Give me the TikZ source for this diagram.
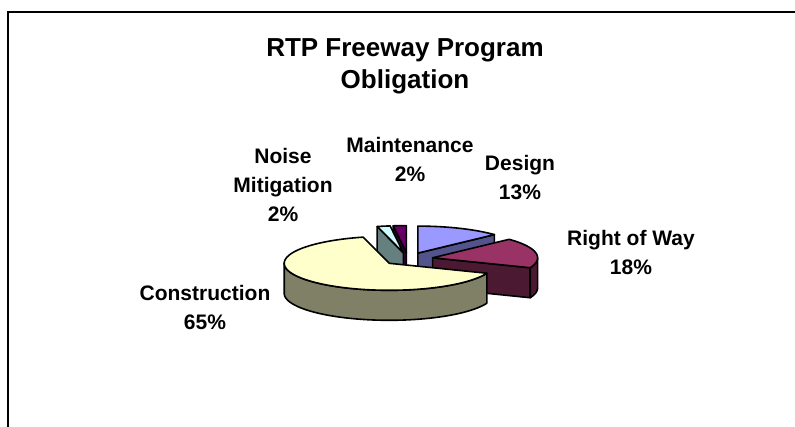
\documentclass[tikz,border=0pt]{standalone}
\usepackage{fontspec}
\setmainfont{Liberation Sans}
\usepackage{xcolor}

\definecolor{designc}{HTML}{9999FF}
\definecolor{rowc}{HTML}{993366}
\definecolor{constrc}{HTML}{FFFFCC}
\definecolor{noisec}{HTML}{CCFFFF}
\definecolor{maintc}{HTML}{660066}

\begin{document}
\begin{tikzpicture}[x=1pt,y=-1pt,
  face/.style={draw=black,line width=1.6pt,line join=round},
  lbl/.style={font=\bfseries\fontsize{21}{29}\selectfont,align=center,inner sep=0pt}]
  \useasboundingbox (0,0) rectangle (795,427);
  \def\rx{105} \def\ry{27} \def\dep{30}

  % frame
  \draw[line width=2.5pt] (8,427) -- (8,12) -- (795,12);

  \node[lbl,font=\bfseries\fontsize{26}{32}\selectfont] (title) at (405,66) {RTP Freeway Program\\Obligation};

% Maintenance
\begin{scope}[shift={(406.4,252.6)}]
  \draw[face,fill=maintc!50!black] (0,0) -- ({\rx*sin(352.8)},{-\ry*cos(352.8)}) -- ++(0,\dep) -- (0,\dep) -- cycle;
  \draw[face,fill=maintc] (0,0) -- plot[domain=352.8:360,variable=\x] ({\rx*sin(\x)},{-\ry*cos(\x)}) -- cycle;
\end{scope}

% Noise Mitigation
\begin{scope}[shift={(403.3,252.7)}]
  \draw[face,fill=noisec!50!black] (0,0) -- ({\rx*sin(345.6)},{-\ry*cos(345.6)}) -- ++(0,\dep) -- (0,\dep) -- cycle;
  \draw[face,fill=noisec] (0,0) -- plot[domain=345.6:352.8,variable=\x] ({\rx*sin(\x)},{-\ry*cos(\x)}) -- cycle;
\end{scope}

% Design
\begin{scope}[shift={(417.9,253.1)}]
  \draw[face,fill=designc!55!black] (0,0) -- ({\rx*sin(46.8)},{-\ry*cos(46.8)}) -- ++(0,\dep) -- (0,\dep) -- cycle;
  \draw[face,fill=designc] (0,0) -- plot[domain=0:46.8,variable=\x] ({\rx*sin(\x)},{-\ry*cos(\x)}) -- cycle;
\end{scope}

% Right of Way
\begin{scope}[shift={(432.6,257.8)}]
  \draw[face,fill=rowc!50!black] (0,0) -- ({\rx*sin(111.6)},{-\ry*cos(111.6)}) -- ++(0,\dep) -- (0,\dep) -- cycle;
  \draw[face,fill=rowc!50!black] plot[domain=90:111.6,variable=\x] ({\rx*sin(\x)},{-\ry*cos(\x)})
     -- plot[domain=111.6:90,variable=\x] ({\rx*sin(\x)},{-\ry*cos(\x)+\dep}) -- cycle;
  \draw[face,fill=rowc] (0,0) -- plot[domain=46.8:111.6,variable=\x] ({\rx*sin(\x)},{-\ry*cos(\x)}) -- cycle;
\end{scope}

% Construction
\begin{scope}[shift={(389.2,263.3)}]
  \draw[face,fill=constrc!50!black] plot[domain=111.6:270,samples=60,variable=\x] ({\rx*sin(\x)},{-\ry*cos(\x)})
     -- plot[domain=270:111.6,samples=60,variable=\x] ({\rx*sin(\x)},{-\ry*cos(\x)+\dep}) -- cycle;
  \draw[face,fill=constrc] (0,0) -- plot[domain=111.6:345.6,samples=80,variable=\x] ({\rx*sin(\x)},{-\ry*cos(\x)}) -- cycle;
\end{scope}

  \node[lbl] (design) at (520,178) {Design\\13\%};
  \node[lbl] (row) at (631,252) {Right of Way\\18\%};
  \node[lbl] (constr) at (205,307) {Construction\\65\%};
  \node[lbl] (noise) at (283,185) {Noise\\Mitigation\\2\%};
  \node[lbl] (maint) at (410,159) {Maintenance\\2\%};
\end{tikzpicture}
\end{document}
